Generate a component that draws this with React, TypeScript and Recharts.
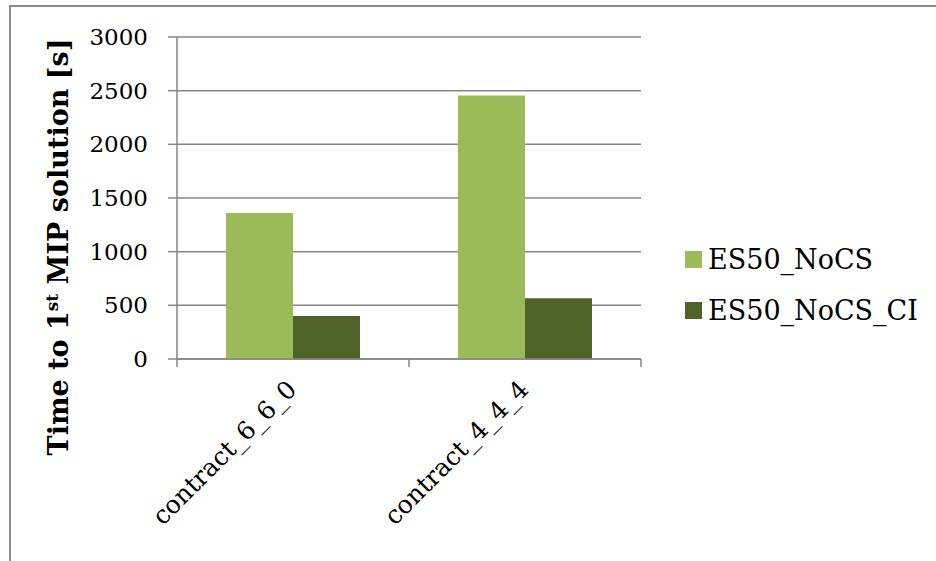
import React from 'react';
import { BarChart, Bar, XAxis, YAxis, CartesianGrid, Label } from 'recharts';

const categories = ['contract_6_6_0', 'contract_4_4_4'];
const es50NoCS = [1360, 2455];
const es50NoCSCI = [400, 565];
const yTicks = [0, 500, 1000, 1500, 2000, 2500, 3000];

const seriesNames = ['ES50_NoCS', 'ES50_NoCS_CI'];
const seriesColors = ['#9BBB59', '#4F6228'];

const data = categories.map((c, i) => ({
  category: c,
  noCS: es50NoCS[i],
  noCSCI: es50NoCSCI[i],
}));

const FONT = '"DejaVu Serif", "Liberation Serif", serif';
const AXIS = '#868686';
const PLOT_LEFT = 177;
const PLOT_RIGHT = 641;
const HALF_BAND = (PLOT_RIGHT - PLOT_LEFT) / categories.length / 2;

const CategoryTick = (props: any) => {
  const { x, y, payload, index } = props;
  const lx = x + 5;
  const ly = y + 32;
  return (
    <g>
      <line x1={x - HALF_BAND} x2={x - HALF_BAND} y1={y} y2={y + 8} stroke={AXIS} strokeWidth={1.5} />
      {index === categories.length - 1 && (
        <line x1={x + HALF_BAND} x2={x + HALF_BAND} y1={y} y2={y + 8} stroke={AXIS} strokeWidth={1.5} />
      )}
      <text
        x={lx}
        y={ly}
        textAnchor="end"
        transform={`rotate(-45 ${lx} ${ly})`}
        fontFamily={FONT}
        fontSize={25}
        fill="#000"
      >
        {payload.value}
      </text>
    </g>
  );
};

const YTitle = () => (
  <text
    x={68}
    y={247}
    textAnchor="middle"
    transform="rotate(-90 68 247)"
    fontFamily={FONT}
    fontWeight="bold"
    fontSize={27}
    fill="#000"
  >
    Time to 1
    <tspan fontSize={17} dy={-10}>st</tspan>
    <tspan dy={10}> MIP solution [s]</tspan>
  </text>
);

export default function App() {
  return (
    <div style={{ position: 'fixed', left: 0, top: 0, width: 936, height: 561, background: '#fff', overflow: 'hidden' }}>
      <div
        style={{
          position: 'absolute',
          left: 9,
          top: 5,
          width: 960,
          height: 600,
          border: '2px solid #8c8c8c',
        }}
      />
      <BarChart
        width={936}
        height={561}
        data={data}
        margin={{ top: 37, right: 936 - PLOT_RIGHT, left: PLOT_LEFT - 100, bottom: 0 }}
        barCategoryGap={49}
        barGap={0}
        style={{ position: 'absolute', left: 0, top: 0 }}
      >
        <CartesianGrid vertical={false} stroke={AXIS} strokeWidth={1.5} />
        <XAxis
          dataKey="category"
          height={202}
          tickLine={false}
          tickSize={0}
          tickMargin={0}
          axisLine={{ stroke: AXIS, strokeWidth: 1.5 }}
          tick={<CategoryTick />}
          interval={0}
        />
        <YAxis
          width={100}
          domain={[0, 3000]}
          ticks={yTicks}
          interval={0}
          tickSize={9}
          tickMargin={20}
          axisLine={{ stroke: AXIS, strokeWidth: 1.5 }}
          tickLine={{ stroke: AXIS, strokeWidth: 1.5 }}
          tick={{ fontFamily: FONT, fontSize: 23, fill: '#000' }}
        >
          <Label content={<YTitle />} />
        </YAxis>
        <Bar dataKey="noCS" name={seriesNames[0]} fill={seriesColors[0]} isAnimationActive={false} />
        <Bar dataKey="noCSCI" name={seriesNames[1]} fill={seriesColors[1]} isAnimationActive={false} />
      </BarChart>
      <div style={{ position: 'absolute', left: 685, top: 234, fontFamily: FONT, fontSize: 27, color: '#000' }}>
        {seriesNames.map((n, i) => (
          <div key={n} style={{ display: 'flex', alignItems: 'center', height: 51 }}>
            <span style={{ display: 'inline-block', width: 17, height: 17, background: seriesColors[i], marginRight: 6 }} />
            <span>{n}</span>
          </div>
        ))}
      </div>
    </div>
  );
}
